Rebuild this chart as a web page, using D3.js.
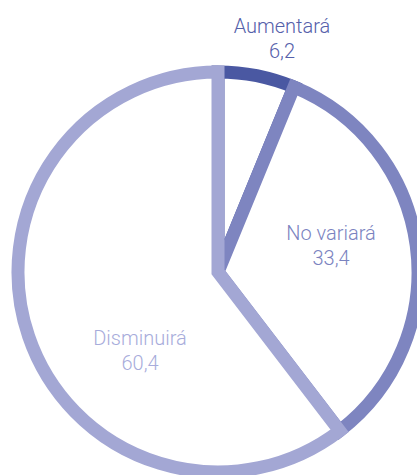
<!DOCTYPE html>
<html><head><meta charset="utf-8">
<script src="https://cdn.jsdelivr.net/npm/d3@7"></script>
<style>html,body{margin:0;padding:0;background:#fff;overflow:hidden}</style>
</head><body>
<svg id="c" width="417" height="475"></svg>
<script>
const categories = ["Aumentará", "No variará", "Disminuirá"];
const values = [6.2, 33.4, 60.4];
const valueLabels = ["6,2", "33,4", "60,4"];
const colors = ["#4a58a2", "#7e85c0", "#a3a7d4"];
const textColors = ["#5560aa", "#7b83bf", "#a7acdb"];

const W = 417, H = 475, cx = 218, cy = 272, R = 200;
// label anchor positions (layout, in px relative to the pie centre)
const labelOffsets = [[64, -239], [113, -32], [-78, 73]];

const svg = d3.select("#c");
const g = svg.append("g").attr("transform", `translate(${cx},${cy})`);
const data = categories.map((c, i) => ({c, v: values[i], i}));
const pie = d3.pie().value(d => d.v).sort(null);
const arc = d3.arc().innerRadius(0).outerRadius(R);
const arcs = pie(data);

g.selectAll("path").data(arcs).join("path")
  .attr("d", arc)
  .attr("fill", "#fff")
  .attr("stroke", d => colors[d.data.i])
  .attr("stroke-width", 13)
  .attr("stroke-linejoin", "miter");

const lab = g.selectAll("text.l").data(arcs).join("text")
  .attr("class", "l")
  .attr("text-anchor", "middle")
  .attr("font-family", "Roboto, Liberation Sans, Arial, sans-serif")
  .attr("font-weight", 300)
  .attr("font-size", 20)
  .attr("fill", d => textColors[d.data.i])
  .attr("transform", d => `translate(${labelOffsets[d.data.i][0]},${labelOffsets[d.data.i][1]})`);
lab.append("tspan").attr("x", 0).attr("y", 0).text(d => d.data.c);
lab.append("tspan").attr("x", 0).attr("y", 25).text(d => valueLabels[d.data.i]);
</script>
</body></html>
